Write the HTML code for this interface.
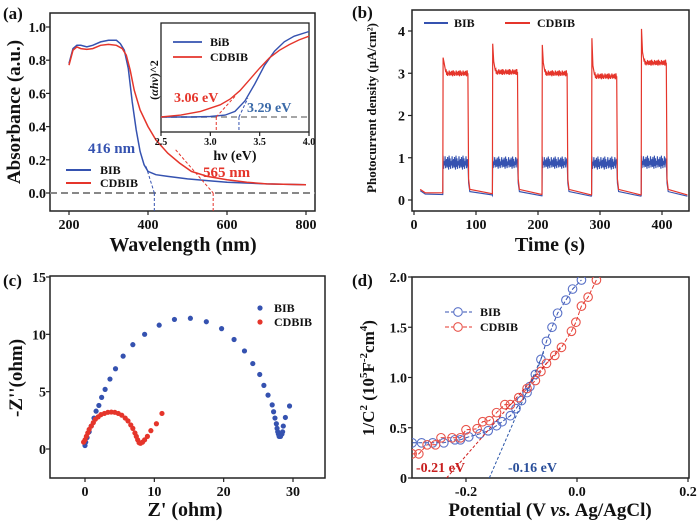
<!DOCTYPE html>
<html><head><meta charset="utf-8"><style>
html,body{margin:0;padding:0;background:#fff;}
svg{display:block;font-family:"Liberation Serif",serif;font-weight:bold;}
</style></head><body>
<svg id="fig" width="700" height="522" viewBox="0 0 700 522" xmlns="http://www.w3.org/2000/svg"></svg>
<script>
// ---- Panel (a) data ----
const aBibX=[200,210,220,230,245,260,280,300,320,330,340,350,360,370,380,390,400,420,450,500,550,600,700,800];
const aBibY=[0.78,0.87,0.89,0.89,0.88,0.89,0.91,0.92,0.92,0.90,0.86,0.75,0.55,0.38,0.25,0.17,0.13,0.11,0.10,0.085,0.075,0.065,0.055,0.05];
const aCdX=[200,210,220,230,245,260,280,300,320,335,345,355,365,380,400,420,450,480,510,550,600,650,700,800];
const aCdY=[0.77,0.86,0.88,0.87,0.865,0.87,0.89,0.895,0.89,0.87,0.83,0.74,0.62,0.50,0.40,0.32,0.24,0.18,0.13,0.10,0.08,0.065,0.055,0.05];
const aXTicks=[200,400,600,800];
const aYTicks=[0,0.2,0.4,0.6,0.8,1.0];
const aEdges=[416,565];
// inset
const iBibX=[2.5,2.8,3.0,3.15,3.25,3.35,3.45,3.55,3.65,3.75,3.85,4.0];
const iBibY=[0,0,0.005,0.02,0.06,0.17,0.35,0.55,0.70,0.80,0.86,0.91];
const iCdX=[2.5,2.7,2.9,3.1,3.2,3.3,3.4,3.5,3.6,3.7,3.8,3.9,4.0];
const iCdY=[0,0.02,0.06,0.13,0.19,0.28,0.40,0.52,0.63,0.71,0.77,0.82,0.86];
const iXTicks=[2.5,3.0,3.5,4.0];
const iGaps=[3.06,3.29];
// ---- Panel (b) data ----
const bOn=[47,127,207,287,367];
const bOff=[87,167,247,327,407];
const bCdPeak=[3.37,3.7,3.67,3.83,4.05];
const bCdPlat=[3.0,3.03,3.0,2.93,3.25];
const bBibHi=[1.05,1.03,1.03,1.03,1.05];
const bBibLo=[0.72,0.74,0.74,0.72,0.74];
const bDark=[0.15,0.13,0.12,0.12,0.12];
const bNoise=[1,0.2,0.8,0.05,0.6,0.3,0.95,0.1,0.5,0.75,0.15,0.9,0.4,0];
const bXTicks=[0,100,200,300,400];
const bYTicks=[0,1,2,3,4];
// ---- Panel (c) data ----
const cBibX=[0,0.1,0.3,0.6,0.9,1.3,1.6,2.0,2.4,2.9,3.6,4.4,5.5,6.9,8.6,10.7,12.9,15.2,17.5,19.7,21.5,23.0,24.2,25.2,25.8,26.4,27.0,27.2,27.4,27.6,27.7,27.8,27.9,28.0,28.2,28.4,28.5,28.6,28.9,29.5];
const cBibY=[0.3,0.6,1.0,1.5,2.0,2.7,3.3,3.8,4.5,5.2,6.1,7.0,8.1,9.1,10.0,10.8,11.3,11.4,11.1,10.5,9.55,8.55,7.45,6.5,5.55,4.7,3.85,3.25,2.7,2.2,1.8,1.5,1.3,1.1,1.1,1.3,1.5,2.0,2.75,3.75];
const cCdX=[-0.2,0,0.2,0.4,0.6,0.9,1.2,1.5,1.9,2.3,2.8,3.3,3.8,4.3,4.8,5.3,5.8,6.2,6.6,6.9,7.2,7.4,7.6,7.8,8.0,8.3,8.6,9.0,9.5,10.3,11.1];
const cCdY=[0.6,0.8,1.1,1.4,1.7,2.0,2.3,2.6,2.8,3.0,3.1,3.2,3.22,3.2,3.1,2.95,2.7,2.45,2.1,1.8,1.4,1.1,0.8,0.55,0.5,0.6,0.8,1.1,1.6,2.2,3.1];
const cXTicks=[0,10,20,30];
const cYTicks=[0,5,10,15];
// ---- Panel (d) data ----
const dBibX=[-0.297,-0.28,-0.26,-0.24,-0.22,-0.21,-0.195,-0.175,-0.16,-0.145,-0.135,-0.12,-0.11,-0.1,-0.09,-0.085,-0.075,-0.065,-0.055,-0.045,-0.035,-0.02,-0.008,0.008];
const dBibY=[0.35,0.35,0.35,0.35,0.38,0.38,0.41,0.44,0.47,0.52,0.56,0.62,0.69,0.77,0.85,0.91,1.03,1.18,1.36,1.5,1.64,1.77,1.88,1.97];
const dCdX=[-0.297,-0.285,-0.27,-0.255,-0.245,-0.225,-0.21,-0.2,-0.18,-0.17,-0.158,-0.145,-0.13,-0.12,-0.105,-0.09,-0.075,-0.065,-0.055,-0.04,-0.028,-0.01,-0.002,0.008,0.02,0.035];
const dCdY=[0.24,0.24,0.33,0.33,0.40,0.40,0.40,0.48,0.49,0.56,0.57,0.65,0.73,0.73,0.80,0.89,0.97,1.06,1.14,1.22,1.30,1.46,1.55,1.71,1.80,1.97];
const dXTicks=[-0.2,0.0,0.2];
const dYTicks=[0,0.5,1.0,1.5,2.0];

const NS='http://www.w3.org/2000/svg';
const svg=document.getElementById('fig');
const BLUE='#3552b0', RED='#e5352b';
function mk(tag,attrs,name,parent){
  const e=document.createElementNS(NS,tag);
  for(const k in attrs)e.setAttribute(k,attrs[k]);
  
  
  (parent||svg).appendChild(e);return e;
}
function txt(s,x,y,size,name,opt){opt=opt||{};
  const e=mk('text',{x:x,y:y,'font-size':size,fill:opt.fill||'#111','text-anchor':opt.anchor||'start'},name);
  if(opt.rot)e.setAttribute('transform','rotate(-90 '+x+' '+y+')');
  e.textContent=s;return e;}
function lin(d0,d1,r0,r1){return v=>r0+(v-d0)*(r1-r0)/(d1-d0);}
function path(xs,ys,sx,sy,name,st){
  const d=xs.map((v,i)=>(i?'L':'M')+sx(v).toFixed(1)+','+sy(ys[i]).toFixed(1)).join('');
  return mk('path',Object.assign({d:d,fill:'none'},st),name);}
function box(x0,y0,x1,y1,name){mk('rect',{x:x0,y:y0,width:x1-x0,height:y1-y0,fill:'none',stroke:'#222','stroke-width':1.5},name);}
function xticks(ticks,sx,yb,labY,size,name,fmt){ticks.forEach(t=>{
  mk('line',{x1:sx(t),x2:sx(t),y1:yb,y2:yb+4,stroke:'#222','stroke-width':1.2},name+'-tick');
  txt(fmt?fmt(t):String(t),sx(t),labY,size,name+'-label',{anchor:'middle'});});}
function yticks(ticks,sy,xl,labX,size,name,fmt){ticks.forEach(t=>{
  mk('line',{x1:xl-4,x2:xl,y1:sy(t),y2:sy(t),stroke:'#222','stroke-width':1.2},name+'-tick');
  txt(fmt?fmt(t):String(t),labX,sy(t)+5,size,name+'-label',{anchor:'end'});});}

// ===== Panel (a) =====
(function(){
 const sx=lin(200,800,69,306), sy=lin(0,1,193,27);
 box(50,13,315,211,'panel-a-plot-area');
 mk('line',{x1:50,x2:315,y1:sy(0),y2:sy(0),stroke:'#888','stroke-width':2,'stroke-dasharray':'7,4'},'zero-baseline');
 path(aBibX,aBibY,sx,sy,'bib-absorbance-line',{stroke:BLUE,'stroke-width':1.5});
 path(aCdX,aCdY,sx,sy,'cdbib-absorbance-line',{stroke:RED,'stroke-width':1.5});
 mk('line',{x1:sx(395),y1:sy(0.16),x2:sx(aEdges[0]),y2:sy(0),stroke:BLUE,'stroke-width':1,'stroke-dasharray':'3,2'},'bib-edge-tangent');
 mk('line',{x1:sx(aEdges[0]),y1:sy(0),x2:sx(aEdges[0]),y2:211,stroke:BLUE,'stroke-width':1,'stroke-dasharray':'3,2'},'bib-edge-drop');
 mk('line',{x1:sx(470),y1:sy(0.26),x2:sx(aEdges[1]),y2:sy(0),stroke:RED,'stroke-width':1,'stroke-dasharray':'3,2'},'cdbib-edge-tangent');
 mk('line',{x1:sx(aEdges[1]),y1:sy(0),x2:sx(aEdges[1]),y2:211,stroke:RED,'stroke-width':1,'stroke-dasharray':'3,2'},'cdbib-edge-drop');
 xticks(aXTicks,sx,211,229,14,'a-x');
 yticks(aYTicks,sy,50,46,14,'a-y',v=>v.toFixed(1));
 txt('Wavelength (nm)',183,251,20,'a-x-axis-title',{anchor:'middle'});
 txt('Absorbance (a.u.)',20,112,19,'a-y-axis-title',{anchor:'middle',rot:1});
 txt('(a)',3,19,17,'panel-a-label');
 txt(aEdges[0]+' nm',88,153,15,'bib-edge-label',{fill:BLUE});
 txt(aEdges[1]+' nm',203,177,15,'cdbib-edge-label',{fill:RED});
 mk('line',{x1:66,x2:91,y1:170,y2:170,stroke:BLUE,'stroke-width':2},'legend-bib-swatch');
 txt('BIB',100,174,12,'legend-bib');
 mk('line',{x1:66,x2:91,y1:183,y2:183,stroke:RED,'stroke-width':2},'legend-cdbib-swatch');
 txt('CDBIB',100,187,12,'legend-cdbib');
 // inset
 const ix=lin(2.5,4.0,161,309), iy=lin(0,1,117,23);
 mk('rect',{x:161,y:23,width:148,height:109,fill:'#fff',stroke:'#222','stroke-width':1.3},'inset-plot-area');
 mk('line',{x1:161,x2:309,y1:iy(0),y2:iy(0),stroke:'#999','stroke-width':1.8,'stroke-dasharray':'6,4'},'inset-baseline');
 path(iBibX,iBibY,ix,iy,'inset-bib-line',{stroke:BLUE,'stroke-width':1.4});
 path(iCdX,iCdY,ix,iy,'inset-cdbib-line',{stroke:RED,'stroke-width':1.4});
 mk('line',{x1:ix(iGaps[0]),y1:iy(0),x2:ix(3.25),y2:iy(0.22),stroke:RED,'stroke-width':1,'stroke-dasharray':'3,2'},'inset-cdbib-tangent');
 mk('line',{x1:ix(iGaps[1]),y1:iy(0),x2:ix(3.38),y2:iy(0.2),stroke:BLUE,'stroke-width':1,'stroke-dasharray':'3,2'},'inset-bib-tangent');
 mk('line',{x1:ix(iGaps[0]),y1:iy(0),x2:ix(iGaps[0]),y2:132,stroke:RED,'stroke-width':1,'stroke-dasharray':'3,2'},'inset-cdbib-drop');
 mk('line',{x1:ix(iGaps[1]),y1:iy(0),x2:ix(iGaps[1]),y2:132,stroke:BLUE,'stroke-width':1,'stroke-dasharray':'3,2'},'inset-bib-drop');
 xticks(iXTicks,ix,132,145,10,'inset-x',v=>v.toFixed(1));
 txt('hν (eV)',235,160,14,'inset-x-axis-title',{anchor:'middle'});
 const it=txt('',158,80,12,'inset-y-axis-title',{anchor:'middle',rot:1});
 it.innerHTML='(<tspan font-style="italic">αhν</tspan>)^2';
 txt(iGaps[0].toFixed(2)+' eV',174,102,14,'inset-cdbib-gap-label',{fill:RED});
 txt(iGaps[1].toFixed(2)+' eV',247,112,14,'inset-bib-gap-label',{fill:'#3b6aa8'});
 mk('line',{x1:173,x2:202,y1:42,y2:42,stroke:BLUE,'stroke-width':1.8},'inset-legend-bib-swatch');
 txt('BiB',210,46,12,'inset-legend-bib');
 mk('line',{x1:173,x2:202,y1:57,y2:57,stroke:RED,'stroke-width':1.8},'inset-legend-cdbib-swatch');
 txt('CDBIB',210,61,12,'inset-legend-cdbib');
})();

// ===== Panel (b) =====
(function(){
 const sx=lin(0,400,414,662), sy=lin(0,4,200,31);
 box(412,10,689,211,'panel-b-plot-area');
 let rx=[10],ry=[0.25],bx=[10],by=[0.22];
 rx.push(18);ry.push(0.17);bx.push(18);by.push(0.14);
 for(let i=0;i<bOn.length;i++){
  const on=bOn[i],off=bOff[i];
  rx.push(on-0.5);ry.push(bDark[i]+0.02);rx.push(on);ry.push(bCdPeak[i]);
  rx.push(on+1.5);ry.push(bCdPlat[i]+0.25);rx.push(on+4);ry.push(bCdPlat[i]+0.05);
  let k=0;
  for(let t=on+5;t<off;t+=0.8){rx.push(t);ry.push(bCdPlat[i]+(bNoise[k%bNoise.length]-0.5)*0.14);k++;}
  rx.push(off);ry.push(bCdPlat[i]);rx.push(off+1);ry.push(0.5);rx.push(off+3);ry.push(0.25);
  bx.push(on-0.5);by.push(bDark[i]-0.02);bx.push(on);by.push(bBibHi[i]);
  k=3;
  for(let t=on+0.8;t<off;t+=0.8){bx.push(t);by.push(bBibLo[i]+(bBibHi[i]-bBibLo[i])*bNoise[k%bNoise.length]);k++;}
  bx.push(off);by.push(bBibHi[i]-0.1);bx.push(off+1);by.push(0.4);bx.push(off+3);by.push(0.2);
  const next=(i+1<bOn.length)?bOn[i+1]:442;
  rx.push(next-1);ry.push(bDark[i]);bx.push(next-1);by.push(bDark[i]-0.03);
 }
 path(bx,by,sx,sy,'bib-photocurrent-line',{stroke:BLUE,'stroke-width':1.1});
 path(rx,ry,sx,sy,'cdbib-photocurrent-line',{stroke:RED,'stroke-width':1.2});
 xticks(bXTicks,sx,211,229,14,'b-x');
 yticks(bYTicks,sy,412,405,14,'b-y');
 txt('Time (s)',550,251,20,'b-x-axis-title',{anchor:'middle'});
 txt('Photocurrent density (μA/cm²)',376,108,13,'b-y-axis-title',{anchor:'middle',rot:1});
 txt('(b)',352,18,17,'panel-b-label');
 mk('line',{x1:424,x2:448,y1:23,y2:23,stroke:BLUE,'stroke-width':2},'legend-b-bib-swatch');
 txt('BIB',454,27,12,'legend-b-bib');
 mk('line',{x1:505,x2:530,y1:23,y2:23,stroke:RED,'stroke-width':2},'legend-b-cdbib-swatch');
 txt('CDBIB',537,27,12,'legend-b-cdbib');
})();

// ===== Panel (c) =====
(function(){
 const sx=lin(0,30,85,293), sy=lin(0,15,449,277);
 box(50,276,325,478,'panel-c-plot-area');
 cBibX.forEach((v,i)=>{mk('circle',{cx:sx(v),cy:sy(cBibY[i]),r:2.6,fill:BLUE},'bib-nyquist-point');});
 cCdX.forEach((v,i)=>{mk('circle',{cx:sx(v),cy:sy(cCdY[i]),r:2.6,fill:RED},'cdbib-nyquist-point');});
 xticks(cXTicks,sx,478,496,14,'c-x');
 yticks(cYTicks,sy,50,46,14,'c-y');
 txt("Z' (ohm)",185,516,20,'c-x-axis-title',{anchor:'middle'});
 txt("-Z''(ohm)",22,378,19,'c-y-axis-title',{anchor:'middle',rot:1});
 txt('(c)',3,286,17,'panel-c-label');
 mk('circle',{cx:260,cy:308,r:2.6,fill:BLUE},'legend-c-bib-swatch');
 txt('BIB',274,312,12,'legend-c-bib');
 mk('circle',{cx:260,cy:322,r:2.6,fill:RED},'legend-c-cdbib-swatch');
 txt('CDBIB',274,326,12,'legend-c-cdbib');
})();

// ===== Panel (d) =====
(function(){
 const sx=lin(-0.2,0.2,466,688), sy=lin(0,2,478,277);
 box(412,277,689,478,'panel-d-plot-area');
 const cp=mk('clipPath',{id:'dclip'},'d-clip');
 mk('rect',{x:412,y:277,width:277,height:201},'d-clip-rect',cp);
 const g=mk('g',{'clip-path':'url(#dclip)'},'d-series-group');
 function line(xs,ys,col,name){const d=xs.map((v,i)=>(i?'L':'M')+sx(v).toFixed(1)+','+sy(ys[i]).toFixed(1)).join('');
  mk('path',{d:d,fill:'none',stroke:col,'stroke-width':1,'stroke-dasharray':'4,2'},name,g);}
 line(dBibX,dBibY,BLUE,'bib-mott-schottky-line');
 line(dCdX,dCdY,RED,'cdbib-mott-schottky-line');
 dBibX.forEach((v,i)=>{mk('circle',{cx:sx(v),cy:sy(dBibY[i]),r:4.3,fill:'none',stroke:'#5a72c8','stroke-width':1.1},'bib-mott-schottky-point',g);});
 dCdX.forEach((v,i)=>{mk('circle',{cx:sx(v),cy:sy(dCdY[i]),r:4.3,fill:'none',stroke:'#e8534a','stroke-width':1.1},'cdbib-mott-schottky-point',g);});
 mk('line',{x1:sx(-0.235),y1:sy(0),x2:sx(-0.03),y2:sy(1.3),stroke:'#d02020','stroke-width':1,'stroke-dasharray':'3,2'},'cdbib-flatband-tangent',g);
 mk('line',{x1:sx(-0.158),y1:sy(0),x2:sx(-0.06),y2:sy(1.25),stroke:'#2a55a8','stroke-width':1,'stroke-dasharray':'3,2'},'bib-flatband-tangent',g);
 xticks(dXTicks,sx,478,496,14,'d-x',v=>v.toFixed(1));
 yticks(dYTicks,sy,412,407,14,'d-y',v=>v===0?'0':v.toFixed(1));
 const t=txt('',550,516,19,'d-x-axis-title',{anchor:'middle'});
 t.innerHTML='Potential (V <tspan font-style="italic">vs.</tspan> Ag/AgCl)';
 const yt=txt('',374,378,17,'d-y-axis-title',{anchor:'middle',rot:1});
 yt.innerHTML='1/C<tspan font-size="11" dy="-7">2</tspan><tspan dy="7"> (10</tspan><tspan font-size="11" dy="-7">5</tspan><tspan dy="7">F</tspan><tspan font-size="11" dy="-7">-2</tspan><tspan dy="7">cm</tspan><tspan font-size="11" dy="-7">4</tspan><tspan dy="7">)</tspan>';
 txt('(d)',352,286,17,'panel-d-label');
 txt('-0.21 eV',416,472,14,'cdbib-flatband-label',{fill:'#c81e1e'});
 txt('-0.16 eV',508,472,14,'bib-flatband-label',{fill:'#2a4f9a'});
 mk('line',{x1:445,x2:472,y1:312,y2:312,stroke:BLUE,'stroke-width':1,'stroke-dasharray':'4,2'},'legend-d-bib-line');
 mk('circle',{cx:458,cy:312,r:4.3,fill:'#fff',stroke:'#5a72c8','stroke-width':1.1},'legend-d-bib-marker');
 txt('BIB',480,316,12,'legend-d-bib');
 mk('line',{x1:445,x2:472,y1:327,y2:327,stroke:RED,'stroke-width':1,'stroke-dasharray':'4,2'},'legend-d-cdbib-line');
 mk('circle',{cx:458,cy:327,r:4.3,fill:'#fff',stroke:'#e8534a','stroke-width':1.1},'legend-d-cdbib-marker');
 txt('CDBIB',480,331,12,'legend-d-cdbib');
})();
</script>
</body></html>
